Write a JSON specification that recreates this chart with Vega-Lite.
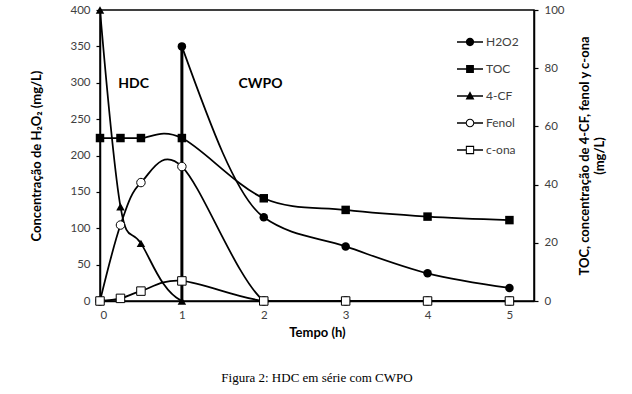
{
  "$schema": "https://vega.github.io/schema/vega-lite/v6.json",
  "width": 434,
  "height": 291,
  "autosize": {"type": "none"},
  "padding": {"left": 100, "top": 10, "right": 98, "bottom": 93},
  "background": "white",
  "config": {
    "view": {"stroke": "black", "strokeWidth": 1.5},
    "font": "Lato",
    "axis": {
      "grid": false,
      "domainColor": "black",
      "domainWidth": 1.5,
      "tickColor": "black",
      "tickWidth": 1.2,
      "tickSize": 4,
      "labelFont": "Lato",
      "labelFontSize": 11.5,
      "labelColor": "#404040",
      "titleFont": "Lato",
      "titleFontSize": 13,
      "titleFontWeight": "bold",
      "titleColor": "black"
    }
  },
  "title": {
    "text": "Figura 2: HDC em série com CWPO",
    "orient": "bottom",
    "anchor": "middle",
    "font": "Liberation Serif",
    "fontSize": 13,
    "fontWeight": "normal",
    "color": "black",
    "offset": 32
  },
  "datasets": {
    "left": [
      {"serie": "H2O2", "tempo": 1, "valor": 350},
      {"serie": "H2O2", "tempo": 2, "valor": 115},
      {"serie": "H2O2", "tempo": 3, "valor": 75},
      {"serie": "H2O2", "tempo": 4, "valor": 38},
      {"serie": "H2O2", "tempo": 5, "valor": 18}
    ],
    "right": [
      {"serie": "TOC", "tempo": 0, "valor": 56},
      {"serie": "TOC", "tempo": 0.25, "valor": 56},
      {"serie": "TOC", "tempo": 0.5, "valor": 56},
      {"serie": "TOC", "tempo": 1, "valor": 56},
      {"serie": "TOC", "tempo": 2, "valor": 35.3},
      {"serie": "TOC", "tempo": 3, "valor": 31.3},
      {"serie": "TOC", "tempo": 4, "valor": 29},
      {"serie": "TOC", "tempo": 5, "valor": 27.8},
      {"serie": "4-CF", "tempo": 0, "valor": 100},
      {"serie": "4-CF", "tempo": 0.25, "valor": 32.4},
      {"serie": "4-CF", "tempo": 0.5, "valor": 19.8},
      {"serie": "4-CF", "tempo": 1, "valor": 0},
      {"serie": "4-CF", "tempo": 2, "valor": 0},
      {"serie": "4-CF", "tempo": 3, "valor": 0},
      {"serie": "4-CF", "tempo": 4, "valor": 0},
      {"serie": "4-CF", "tempo": 5, "valor": 0},
      {"serie": "Fenol", "tempo": 0, "valor": 0},
      {"serie": "Fenol", "tempo": 0.25, "valor": 26.1},
      {"serie": "Fenol", "tempo": 0.5, "valor": 40.7},
      {"serie": "Fenol", "tempo": 1, "valor": 46.2},
      {"serie": "Fenol", "tempo": 2, "valor": 0},
      {"serie": "Fenol", "tempo": 3, "valor": 0},
      {"serie": "Fenol", "tempo": 4, "valor": 0},
      {"serie": "Fenol", "tempo": 5, "valor": 0},
      {"serie": "c-ona", "tempo": 0, "valor": 0},
      {"serie": "c-ona", "tempo": 0.25, "valor": 0.9},
      {"serie": "c-ona", "tempo": 0.5, "valor": 3.4},
      {"serie": "c-ona", "tempo": 1, "valor": 6.9},
      {"serie": "c-ona", "tempo": 2, "valor": 0},
      {"serie": "c-ona", "tempo": 3, "valor": 0},
      {"serie": "c-ona", "tempo": 4, "valor": 0},
      {"serie": "c-ona", "tempo": 5, "valor": 0}
    ],
    "vline": [{"tempo": 1, "valor": 0, "valor2": 350}],
    "labels": [
      {"tempo": 0.41, "valor": 298, "texto": "HDC"},
      {"tempo": 1.96, "valor": 298, "texto": "CWPO"}
    ],
    "legenda": [
      {"serie": "H2O2"},
      {"serie": "TOC"},
      {"serie": "4-CF"},
      {"serie": "Fenol"},
      {"serie": "c-ona"}
    ]
  },
  "encoding": {
    "x": {
      "field": "tempo",
      "type": "quantitative",
      "scale": {"domain": [0, 5.3], "nice": false, "zero": false},
      "axis": {"values": [0, 1, 2, 3, 4, 5], "title": "Tempo (h)", "ticks": false, "labelPadding": 8, "titlePadding": 6}
    }
  },
  "layer": [
    {
      "encoding": {
        "y": {
          "field": "valor",
          "type": "quantitative",
          "scale": {"domain": [0, 400], "nice": false},
          "axis": {"values": [0, 50, 100, 150, 200, 250, 300, 350, 400], "title": "Concentração de H₂O₂  (mg/L)", "titlePadding": 26, "labelPadding": 6}
        }
      },
      "layer": [
        {
          "data": {"name": "vline"},
          "mark": {"type": "rule", "color": "black", "strokeWidth": 3},
          "encoding": {"y2": {"field": "valor2"}}
        },
        {
          "data": {"name": "left"},
          "mark": {"type": "line", "color": "black", "strokeWidth": 1.75, "interpolate": "monotone", "clip": true},
          "encoding": {"detail": {"field": "serie"}}
        },
        {
          "data": {"name": "left"},
          "mark": {"type": "point", "shape": "circle", "filled": true, "color": "black", "size": 72, "opacity": 1},
          "encoding": {}
        },
        {
          "data": {"name": "labels"},
          "mark": {"type": "text", "font": "Lato", "fontWeight": "bold", "fontSize": 14, "color": "black", "baseline": "middle", "align": "center"},
          "encoding": {"text": {"field": "texto"}}
        }
      ]
    },
    {
      "data": {"name": "right"},
      "encoding": {
        "y": {
          "field": "valor",
          "type": "quantitative",
          "scale": {"domain": [0, 100], "nice": false},
          "axis": {"orient": "right", "values": [0, 20, 40, 60, 80, 100], "title": ["TOC, concentração de 4-CF, fenol y c-ona", "(mg/L)"], "titleAngle": 270, "titlePadding": 12, "labelPadding": 6}
        }
      },
      "layer": [
        {
          "mark": {"type": "line", "color": "black", "strokeWidth": 1.75, "interpolate": "cardinal", "clip": true},
          "encoding": {"detail": {"field": "serie"}}
        },
        {
          "transform": [{"filter": "datum.serie === 'TOC'"}],
          "mark": {"type": "point", "shape": "square", "filled": true, "color": "black", "size": 72, "opacity": 1},
          "encoding": {}
        },
        {
          "transform": [{"filter": "datum.serie === '4-CF'"}],
          "mark": {"type": "point", "shape": "triangle-up", "filled": true, "color": "black", "size": 72, "opacity": 1},
          "encoding": {}
        },
        {
          "transform": [{"filter": "datum.serie === 'Fenol'"}],
          "mark": {"type": "point", "shape": "circle", "fill": "white", "stroke": "black", "strokeWidth": 1, "size": 72, "opacity": 1},
          "encoding": {}
        },
        {
          "transform": [{"filter": "datum.serie === 'c-ona'"}],
          "mark": {"type": "point", "shape": "square", "fill": "white", "stroke": "black", "strokeWidth": 1, "size": 72, "opacity": 1},
          "encoding": {}
        }
      ]
    },
    {
      "data": {"name": "legenda"},
      "mark": {"type": "point", "filled": true, "color": "black", "size": 676, "opacity": 0},
      "encoding": {
        "x": {"datum": 0},
        "shape": {
          "field": "serie",
          "type": "nominal",
          "scale": {
            "domain": ["H2O2", "TOC", "4-CF", "Fenol", "c-ona"],
            "range": [
              "M-1,-0.065H1V0.065H-1Z M0.32,0A0.32,0.32 0 1 1 -0.32,0A0.32,0.32 0 1 1 0.32,0Z",
              "M-1,-0.065H1V0.065H-1Z M-0.3,-0.3H0.3V0.3H-0.3Z",
              "M-1,-0.065H1V0.065H-1Z M0,-0.36L0.34,0.26H-0.34Z",
              "M-1,-0.065H-0.29V0.065H-1Z M0.29,-0.065H1V0.065H0.29Z M0.33,0A0.33,0.33 0 1 1 -0.33,0A0.33,0.33 0 1 1 0.33,0Z M0.25,0A0.25,0.25 0 1 0 -0.25,0A0.25,0.25 0 1 0 0.25,0Z",
              "M-1,-0.065H-0.28V0.065H-1Z M0.28,-0.065H1V0.065H0.28Z M-0.32,-0.32H0.32V0.32H-0.32Z M-0.24,-0.24V0.24H0.24V-0.24Z"
            ]
          },
          "legend": {
            "title": null,
            "orient": "none",
            "legendX": 357,
            "legendY": 19,
            "symbolSize": 676,
            "symbolFillColor": "black",
            "symbolStrokeWidth": 0,
            "symbolOpacity": 1,
            "labelFont": "Lato",
            "labelFontSize": 12,
            "labelColor": "#404040",
            "labelOffset": 3,
            "rowPadding": 8,
            "padding": 0,
            "encode": {
              "symbols": {
                "update": {
                  "size": {"value": 676},
                  "fill": {"value": "black"},
                  "opacity": {"value": 1}
                }
              }
            }
          }
        }
      }
    }
  ],
  "resolve": {"scale": {"y": "independent"}}
}
